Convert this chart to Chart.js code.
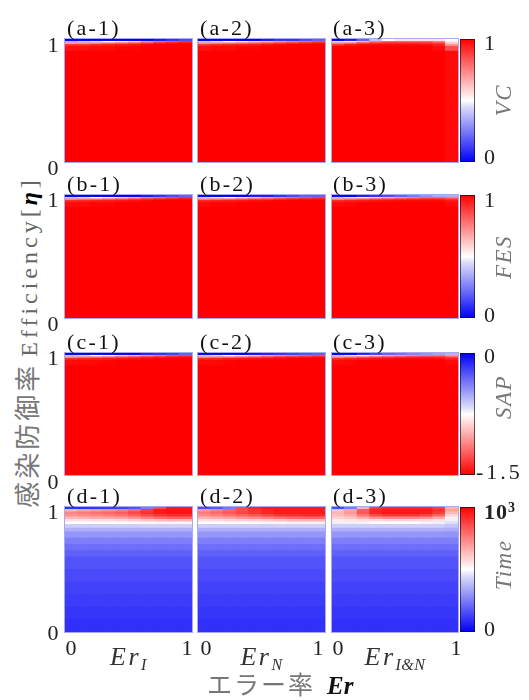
<!DOCTYPE html>
<html><head><meta charset="utf-8">
<script src="https://cdn.jsdelivr.net/npm/chart.js@4.4.1/dist/chart.umd.min.js"></script>
<style>
html,body{margin:0;padding:0;background:#fff}
#root{position:relative;width:529px;height:700px;overflow:hidden;background:#fff}
canvas{position:absolute;display:block}
.pan{outline:1px solid rgba(110,110,235,0.6)}
.t{position:absolute;white-space:nowrap;line-height:1;font-family:"Liberation Serif","DejaVu Serif",serif}
</style></head>
<body><div id="root"></div>
<script>
// ---------------- DATA ----------------
const ER_BINS = ['0.05','0.15','0.25','0.35','0.45','0.55','0.65','0.75','0.85','0.95'];
const ETA_EDGES_ABC = [0, 0.9, 0.94, 0.955, 0.968, 0.98, 1];
const ETA_EDGES_D = [0,0.1,0.2,0.3,0.4,0.5,0.6,0.65,0.7,0.75,0.8,0.83,0.86,0.88,0.9,0.92,0.94,0.96,0.98,1];

// matrices: rows listed from η = 1 downward, columns = ER_BINS
const VC_1 = [
 [0,0,0,0,0,0,0,0.05,0.1,0.15],
 [0.35,0.4,0.45,0.5,0.55,0.6,0.7,0.8,0.85,0.9],
 [0.7,0.72,0.75,0.8,0.82,0.85,0.9,0.95,0.97,0.98],
 [0.9,0.9,0.92,0.93,0.95,0.96,0.98,1,1,1],
 [0.97,0.97,0.98,0.98,0.99,0.99,1,1,1,1],
 [1,1,1,1,1,1,1,1,1,1]];
const VC_2 = [
 [0,0,0,0,0,0.05,0.1,0.1,0.15,0.2],
 [0.4,0.45,0.5,0.55,0.6,0.65,0.7,0.75,0.8,0.85],
 [0.72,0.75,0.78,0.8,0.83,0.86,0.9,0.93,0.95,0.97],
 [0.9,0.92,0.93,0.94,0.95,0.97,0.98,0.99,1,1],
 [0.97,0.98,0.98,0.99,0.99,1,1,1,1,1],
 [1,1,1,1,1,1,1,1,1,1]];
const VC_3 = [
 [0,0.05,0.2,0.4,0.5,0.55,0.55,0.55,0.55,0.5],
 [0.45,0.55,0.65,0.75,0.8,0.8,0.8,0.8,0.75,0.55],
 [0.75,0.8,0.88,0.92,0.93,0.93,0.93,0.92,0.88,0.62],
 [0.9,0.95,0.97,0.98,0.98,0.98,0.98,0.97,0.94,0.7],
 [1,1,1,1,1,1,1,1,0.98,0.85],
 [1,1,1,1,1,1,1,1,1,0.98]];
const FES_1 = [
 [0,0,0,0,0,0,0.05,0.1,0.15,0.2],
 [0.4,0.45,0.5,0.55,0.6,0.65,0.75,0.8,0.85,0.9],
 [0.75,0.78,0.8,0.83,0.86,0.9,0.93,0.95,0.97,0.98],
 [0.92,0.93,0.94,0.95,0.96,0.97,0.98,1,1,1],
 [0.98,0.98,0.99,0.99,1,1,1,1,1,1],
 [1,1,1,1,1,1,1,1,1,1]];
const FES_2 = [
 [0,0,0,0,0.05,0.05,0.1,0.15,0.2,0.2],
 [0.42,0.47,0.52,0.57,0.62,0.68,0.75,0.8,0.85,0.88],
 [0.76,0.79,0.82,0.85,0.88,0.9,0.93,0.95,0.96,0.97],
 [0.93,0.94,0.95,0.96,0.97,0.98,0.99,1,1,1],
 [0.98,0.99,0.99,1,1,1,1,1,1,1],
 [1,1,1,1,1,1,1,1,1,1]];
const FES_3 = [
 [0,0,0.05,0.1,0.15,0.2,0.25,0.3,0.35,0.35],
 [0.4,0.45,0.55,0.6,0.65,0.7,0.75,0.8,0.8,0.75],
 [0.75,0.8,0.85,0.88,0.9,0.92,0.93,0.94,0.94,0.9],
 [0.92,0.94,0.95,0.96,0.97,0.98,0.98,0.98,0.98,0.95],
 [0.98,0.99,1,1,1,1,1,1,1,0.98],
 [1,1,1,1,1,1,1,1,1,1]];
const SAP_1 = [
 [0,0,0,0,0,0,-0.1,-0.15,-0.2,-0.3],
 [-0.6,-0.65,-0.75,-0.8,-0.9,-0.95,-1.05,-1.15,-1.25,-1.3],
 [-1.1,-1.15,-1.2,-1.25,-1.3,-1.35,-1.4,-1.42,-1.45,-1.47],
 [-1.38,-1.4,-1.41,-1.42,-1.44,-1.45,-1.47,-1.5,-1.5,-1.5],
 [-1.47,-1.47,-1.48,-1.49,-1.5,-1.5,-1.5,-1.5,-1.5,-1.5],
 [-1.5,-1.5,-1.5,-1.5,-1.5,-1.5,-1.5,-1.5,-1.5,-1.5]];
const SAP_2 = [
 [0,0,0,0,-0.05,-0.1,-0.15,-0.2,-0.25,-0.3],
 [-0.62,-0.68,-0.75,-0.82,-0.9,-1.0,-1.08,-1.15,-1.22,-1.28],
 [-1.12,-1.16,-1.2,-1.25,-1.3,-1.35,-1.4,-1.42,-1.44,-1.46],
 [-1.39,-1.4,-1.42,-1.43,-1.45,-1.46,-1.48,-1.5,-1.5,-1.5],
 [-1.47,-1.48,-1.49,-1.5,-1.5,-1.5,-1.5,-1.5,-1.5,-1.5],
 [-1.5,-1.5,-1.5,-1.5,-1.5,-1.5,-1.5,-1.5,-1.5,-1.5]];
const SAP_3 = [
 [0,0,-0.1,-0.2,-0.3,-0.35,-0.4,-0.45,-0.5,-0.55],
 [-0.6,-0.7,-0.8,-0.9,-1.0,-1.05,-1.1,-1.15,-1.15,-1.05],
 [-1.1,-1.18,-1.25,-1.3,-1.35,-1.38,-1.4,-1.4,-1.38,-1.3],
 [-1.38,-1.41,-1.43,-1.45,-1.46,-1.47,-1.47,-1.47,-1.46,-1.4],
 [-1.47,-1.48,-1.5,-1.5,-1.5,-1.5,-1.5,-1.5,-1.5,-1.47],
 [-1.5,-1.5,-1.5,-1.5,-1.5,-1.5,-1.5,-1.5,-1.5,-1.5]];
const TIME_1 = [
 [100,100,110,120,140,170,250,850,950,950],
 [650,680,700,720,750,800,880,950,960,960],
 [740,760,780,800,820,860,910,950,960,960],
 [720,730,740,760,780,820,860,900,920,920],
 [640,650,660,670,680,710,750,780,800,800],
 [560,560,570,570,580,600,610,630,640,640],
 [500,500,500,500,505,510,515,520,520,520],
 [420,420,420,420,420,420,425,425,425,425],
 [360,360,360,360,360,360,360,360,360,360],
 [305,305,305,305,305,305,305,305,305,305],
 [260,260,260,260,260,260,260,260,260,260],
 [225,225,225,225,225,225,225,225,225,225],
 [195,195,195,195,195,195,195,195,195,195],
 [170,170,170,170,170,170,170,170,170,170],
 [150,150,150,150,150,150,150,150,150,150],
 [135,135,135,135,135,135,135,135,135,135],
 [122,122,122,122,122,122,122,122,122,122],
 [110,110,110,110,110,110,110,110,110,110],
 [98,98,98,98,98,98,98,98,98,98]];
const TIME_2 = [
 [150,180,250,850,920,950,950,950,950,950],
 [700,750,800,850,900,930,950,950,950,950],
 [760,790,830,870,900,930,950,950,950,950],
 [730,750,780,810,840,870,900,910,920,920],
 [650,660,680,700,720,740,770,790,800,800],
 [565,570,580,590,595,605,620,640,650,650],
 [500,500,505,505,510,515,520,530,530,530],
 [420,420,420,420,420,420,425,425,425,425],
 [360,360,360,360,360,360,360,360,360,360],
 [305,305,305,305,305,305,305,305,305,305],
 [260,260,260,260,260,260,260,260,260,260],
 [225,225,225,225,225,225,225,225,225,225],
 [195,195,195,195,195,195,195,195,195,195],
 [170,170,170,170,170,170,170,170,170,170],
 [150,150,150,150,150,150,150,150,150,150],
 [135,135,135,135,135,135,135,135,135,135],
 [122,122,122,122,122,122,122,122,122,122],
 [110,110,110,110,110,110,110,110,110,110],
 [98,98,98,98,98,98,98,98,98,98]];
const TIME_3 = [
 [150,250,650,880,920,920,920,920,880,650],
 [620,680,820,930,950,950,950,950,910,680],
 [640,700,830,930,960,960,960,950,890,640],
 [630,670,770,860,900,900,900,880,810,580],
 [590,610,660,710,730,730,730,710,660,530],
 [540,550,565,575,580,580,580,575,560,490],
 [490,490,495,500,500,500,500,495,490,450],
 [420,420,420,420,420,420,420,420,420,400],
 [360,360,360,360,360,360,360,360,360,350],
 [305,305,305,305,305,305,305,305,305,300],
 [260,260,260,260,260,260,260,260,260,260],
 [225,225,225,225,225,225,225,225,225,225],
 [195,195,195,195,195,195,195,195,195,195],
 [170,170,170,170,170,170,170,170,170,170],
 [150,150,150,150,150,150,150,150,150,150],
 [135,135,135,135,135,135,135,135,135,135],
 [122,122,122,122,122,122,122,122,122,122],
 [110,110,110,110,110,110,110,110,110,110],
 [98,98,98,98,98,98,98,98,98,98]];

const CB_VC = [0, 1], CB_FES = [0, 1], CB_SAP = [-1.5, 0], CB_TIME = [0, 1000];
const PANEL_TITLES = [['(a-1)','(a-2)','(a-3)'],['(b-1)','(b-2)','(b-3)'],['(c-1)','(c-2)','(c-3)'],['(d-1)','(d-2)','(d-3)']];
const Y_TICKS = ['0','1'];
const X_TICKS = ['0','1'];
const X_LABELS = [['Er','I'],['Er','N'],['Er','I&N']];
const CB_LABELS = ['VC','FES','SAP','Time'];
const CB_TICKS = [['1','0'],['1','0'],['0','-1.5'],['10<sup style="font-size:14px;vertical-align:7px">3</sup>','0']];

// ---------------- RENDER ----------------
const root = document.getElementById('root');
function bwr(t){
  t = Math.max(0, Math.min(1, t));
  if (t < 0.5){ const c = Math.round(490*t); return `rgb(${c},${c},250)`; }
  const c = Math.round(255*(2-2*t)); return `rgb(255,${c},${c})`;
}
const CMAPS = [v=>bwr(v/1), v=>bwr(v/1), v=>bwr(v/-1.5), v=>bwr(v/1000)];
const CBS = [CB_VC, CB_FES, CB_SAP, CB_TIME];
const MATS = [[VC_1,VC_2,VC_3],[FES_1,FES_2,FES_3],[SAP_1,SAP_2,SAP_3],[TIME_1,TIME_2,TIME_3]];
const EDGES = [ETA_EDGES_ABC, ETA_EDGES_ABC, ETA_EDGES_ABC, ETA_EDGES_D];

const COL_X = [65,198,332], COL_W = [127,127,126];
const ROW_Y = [39,195,353,507], ROW_H = [123,123,122,125];
const CB_X = 460, CB_W = 15;

function mkCanvas(x,y,w,h,cls){
  const c = document.createElement('canvas');
  c.width = w; c.height = h;
  c.style.left = x+'px'; c.style.top = y+'px';
  c.style.width = w+'px'; c.style.height = h+'px';
  if (cls) c.className = cls;
  root.appendChild(c); return c;
}
const baseOpts = (ymin,ymax)=>({responsive:false, animation:false, events:[],
  layout:{padding:0},
  plugins:{legend:{display:false}, tooltip:{enabled:false}},
  scales:{x:{display:false, offset:true}, y:{display:false, min:ymin, max:ymax}}});

function heat(cv, edges, mat, cmap){
  const nb = edges.length-1, datasets = [];
  for (let b=0;b<nb;b++){
    const row = mat[nb-1-b];
    datasets.push({data: ER_BINS.map(()=>[edges[b],edges[b+1]]),
      backgroundColor: row.map(cmap), borderWidth:0, barPercentage:1, categoryPercentage:1,
      grouped:false, inflateAmount:0.5});
  }
  new Chart(cv, {type:'bar', data:{labels:ER_BINS, datasets}, options: baseOpts(0,1)});
}
function colorbar(cv, range, cmap){
  const [lo,hi] = range;
  new Chart(cv, {type:'bar', data:{labels:[''], datasets:[{data:[[lo,hi]],
    backgroundColor:(ctx)=>{
      const ch = ctx.chart, a = ch.chartArea; if(!a) return '#fff';
      const g = ch.ctx.createLinearGradient(0,a.top,0,a.bottom);
      for (let i=0;i<=20;i++) g.addColorStop(i/20, cmap(hi-(hi-lo)*i/20));
      return g;
    }, borderWidth:1, borderColor:'#111', borderSkipped:false, barPercentage:1, categoryPercentage:1}]},
    options: baseOpts(lo,hi)});
}

for (let r=0;r<4;r++){
  for (let c=0;c<3;c++){
    heat(mkCanvas(COL_X[c],ROW_Y[r],COL_W[c],ROW_H[r],'pan'), EDGES[r], MATS[r][c], CMAPS[r]);
  }
  colorbar(mkCanvas(CB_X,ROW_Y[r],CB_W,ROW_H[r]), CBS[r], CMAPS[r]);
}

function txt(html,x,y,css,ax){
  const d = document.createElement('div'); d.className='t'; d.innerHTML = html;
  Object.assign(d.style, css||{});
  d.style.left = x+'px'; d.style.top = y+'px';
  const tx = ax==='l' ? '0' : ax==='r' ? '-100%' : '-50%';
  d.style.transform = `translate(${tx},-50%)` + ((css&&css.rot)?' rotate(-90deg)':'');
  root.appendChild(d); return d;
}
const TITLE_CY = [28,184,342,496];
const TITLE_X = [67,200,333];
const YT = [[168,45],[324,200],[482,358],[633,512]];
const CBT = [[43,157],[200,315],[356,472],[512,629]];
const CBL_Y = [100,257,397,565];
for (let r=0;r<4;r++){
  for (let c=0;c<3;c++) txt(PANEL_TITLES[r][c], TITLE_X[c], TITLE_CY[r], {fontSize:'22px', letterSpacing:'2.2px', color:'#111'}, 'l');
  txt(Y_TICKS[0], 53, YT[r][0], {fontSize:'22px', color:'#222'});
  txt(Y_TICKS[1], 53, YT[r][1], {fontSize:'22px', color:'#222'});
  txt(CB_TICKS[r][0], 484, CBT[r][0], {fontSize:'22px', color:'#222', fontWeight: r===3?'bold':'normal', letterSpacing: '1px'}, 'l');
  txt(CB_TICKS[r][1], r===2?476:484, CBT[r][1], {fontSize:'22px', color:'#222', letterSpacing: r===2?'3px':'0'}, 'l');
  txt(CB_LABELS[r], 503, CBL_Y[r], {fontSize:'23px', fontStyle:'italic', color:'#777', letterSpacing:'1.5px', rot:1});
}
const XT = [[71,187],[206,318],[338,456]];
for (let c=0;c<3;c++){
  txt(X_TICKS[0], XT[c][0], 648, {fontSize:'22px', color:'#222'});
  txt(X_TICKS[1], XT[c][1], 648, {fontSize:'22px', color:'#222'});
  txt(`${X_LABELS[c][0]}<span style="font-size:16px;position:relative;top:5px;letter-spacing:0.5px">${X_LABELS[c][1]}</span>`,
      COL_X[c]+COL_W[c]/2, 657, {fontSize:'26px', fontStyle:'italic', color:'#333', letterSpacing:'2.5px'});
}
txt('<span style="font-family:\'Noto Sans CJK JP\';font-size:25px;letter-spacing:2px;color:#777">エラー率</span><span style="font-weight:bold;font-style:italic;font-size:25px;color:#111;margin-left:12px">Er</span>',
    207, 684, {}, 'l');
txt('<span style="font-family:\'Noto Sans CJK JP\';font-size:26px;letter-spacing:3px;color:#777">感染防御率</span><span style="font-size:24px;letter-spacing:4px;color:#666;margin-left:6px">Efficiency[<b style="font-style:italic;color:#000">η</b>]</span>',
    27, 342, {rot:1});
</script></body></html>
